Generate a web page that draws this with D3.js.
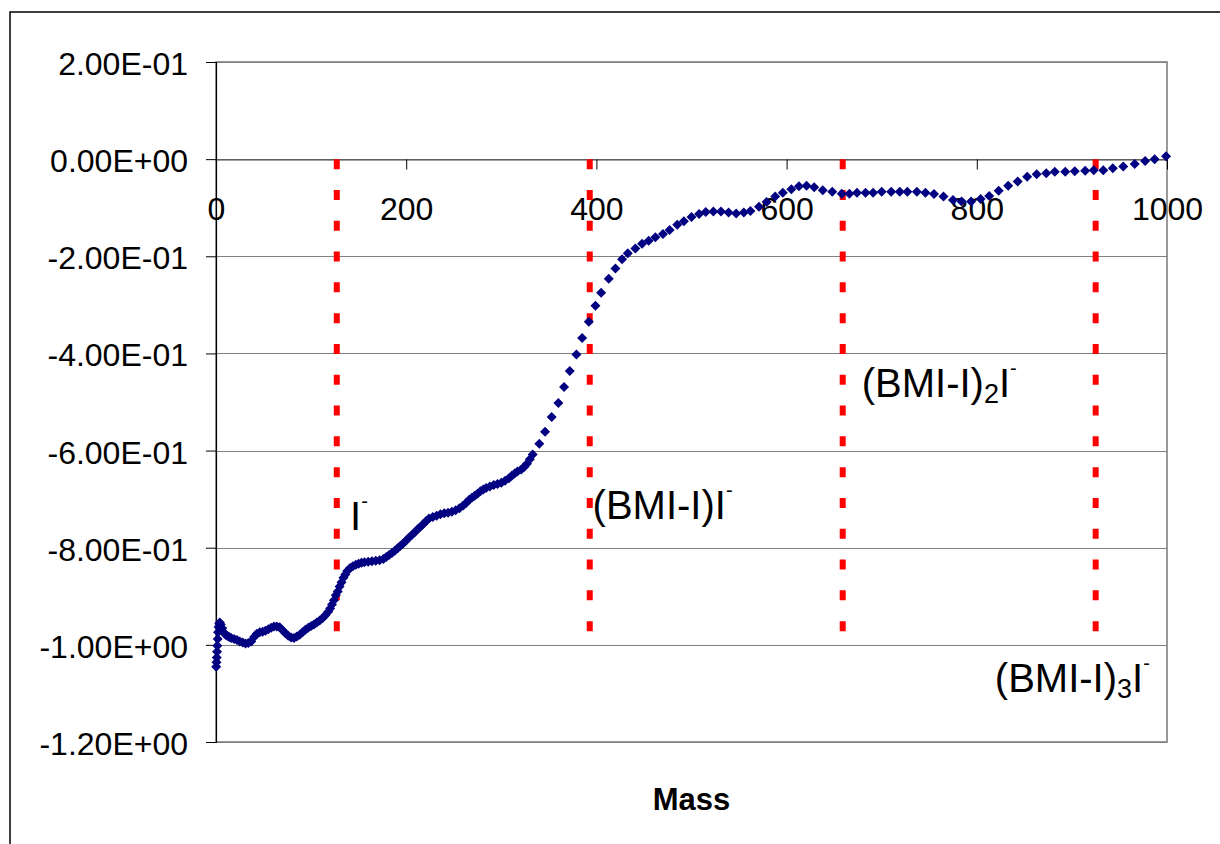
<!DOCTYPE html>
<html>
<head>
<meta charset="UTF-8">
<title>Mass spectrum</title>
<style>
  body { margin: 0; background: #fff; }
  svg { display: block; font-family: "Liberation Sans", Arial, sans-serif; }
</style>
</head>
<body>
<div id="chart"></div>
<script src="https://d3js.org/d3.v7.min.js"></script>
<script>
// [mass, signal]
const signal = [
  [0.2,-1.045],[0.5,-1.036],[0.8,-1.026],[1.1,-1.014],[1.4,-1.002],[1.8,-0.988],[2.2,-0.974],[2.7,-0.963],
  [3.3,-0.956],[4,-0.954],[5,-0.958],[6.5,-0.966],[8,-0.974],[10,-0.979],[12,-0.982],[14,-0.984],[16,-0.986],
  [19,-0.988],[22,-0.990],[25,-0.993],[28,-0.995],[31,-0.997],[34,-0.996],[37,-0.993],[40,-0.984],[43,-0.977],
  [46,-0.974],[49,-0.973],[52,-0.971],[55,-0.968],[58,-0.965],[61,-0.962],[64,-0.962],[67,-0.964],[70,-0.970],
  [73,-0.976],[76,-0.981],[79,-0.985],[82,-0.986],[85,-0.983],[88,-0.979],[91,-0.974],[94,-0.969],[97,-0.965],
  [100,-0.961],[103,-0.958],[106,-0.954],[109,-0.950],[112,-0.945],[115,-0.939],[118,-0.932],[120,-0.925],
  [122,-0.917],[124,-0.908],[126,-0.898],[128,-0.890],[130,-0.880],[132,-0.871],[134,-0.862],[136,-0.855],
  [138,-0.848],[141,-0.842],[144,-0.838],[147,-0.835],[150,-0.833],[153,-0.831],[156,-0.830],[160,-0.829],
  [164,-0.828],[168,-0.827],[172,-0.826],[176,-0.823],[179,-0.819],[182,-0.815],[185,-0.811],[188,-0.806],
  [191,-0.801],[194,-0.796],[197,-0.791],[200,-0.785],[203,-0.779],[206,-0.774],[209,-0.768],[212,-0.762],
  [215,-0.757],[218,-0.751],[221,-0.745],[224,-0.740],[228,-0.737],[232,-0.734],[236,-0.731],[240,-0.729],
  [244,-0.728],[248,-0.726],[252,-0.723],[256,-0.719],[260,-0.713],[263,-0.708],[266,-0.702],[269,-0.697],
  [272,-0.693],[275,-0.689],[278,-0.684],[281,-0.680],[284,-0.677],[288,-0.674],[292,-0.671],[296,-0.669],
  [300,-0.666],[304,-0.662],[308,-0.657],[311,-0.652],[314,-0.647],[317,-0.643],[321,-0.639],[324,-0.634],
  [327,-0.627],[330,-0.618],[333,-0.608],
  [340,-0.586],[346,-0.561],[353,-0.531],[360,-0.502],[366,-0.469],[372,-0.436],[379,-0.402],[385,-0.368],
  [392,-0.335],[399,-0.302],[405,-0.275],[413,-0.246],[420,-0.225],[427,-0.206],[433,-0.194],[441,-0.184],
  [448,-0.174],[455,-0.168],[462,-0.161],[470,-0.154],[477,-0.146],[485,-0.135],[492,-0.128],[500,-0.119],
  [508,-0.113],[515,-0.109],[523,-0.108],[531,-0.108],[539,-0.110],[547,-0.112],[555,-0.110],[562,-0.107],
  [571,-0.098],[579,-0.088],[588,-0.077],[596,-0.069],[605,-0.062],[613,-0.056],[621,-0.055],[629,-0.058],
  [638,-0.064],[648,-0.067],[658,-0.071],[666,-0.071],[674,-0.069],[683,-0.069],[691,-0.069],[700,-0.067],
  [710,-0.067],[719,-0.067],[727,-0.067],[737,-0.067],[746,-0.069],[755,-0.072],[765,-0.077],[775,-0.084],
  [784,-0.087],[794,-0.087],[804,-0.082],[813,-0.076],[823,-0.065],[833,-0.055],[843,-0.046],[853,-0.036],
  [863,-0.031],[873,-0.029],[882,-0.026],[893,-0.026],[903,-0.025],[914,-0.024],[923,-0.023],[933,-0.023],
  [943,-0.019],[954,-0.015],[966,-0.010],[977,-0.004],[987,0.000],[999,0.006]
];

const ionMasses = [127, 393, 659, 925];
const ionLabels = [
  [{t: "I"}, {t: "-", sup: true}],
  [{t: "(BMI-I)I"}, {t: "-", sup: true}],
  [{t: "(BMI-I)"}, {t: "2", sub: true}, {t: "I"}, {t: "-", sup: true}],
  [{t: "(BMI-I)"}, {t: "3", sub: true}, {t: "I"}, {t: "-", sup: true}]
];
const xTicks = [0, 200, 400, 600, 800, 1000];
const yTicks = [0.2, 0, -0.2, -0.4, -0.6, -0.8, -1.0, -1.2];
const xTitle = "Mass";

const width = 1220, height = 844;
const svg = d3.select("#chart").append("svg").attr("width", width).attr("height", height);

// outer chart border
svg.append("rect").attr("x", 10).attr("y", 12).attr("width", 1400).attr("height", 1000)
  .attr("fill", "none").attr("stroke", "#000").attr("stroke-width", 1.5);

const x = d3.scaleLinear().domain([0, 1000]).range([216, 1167]);
const y = d3.scaleLinear().domain([-1.2, 0.2]).range([742, 62]);

const fmtE = d => {
  const [m, e] = d.toExponential(2).split("e");
  const sign = e[0] === "-" ? "-" : "+";
  return m + "E" + sign + String(Math.abs(+e)).padStart(2, "0");
};

// grid
svg.append("g").selectAll("line").data(yTicks).join("line")
  .attr("x1", x(0)).attr("x2", x(1000))
  .attr("y1", d => Math.round(y(d)) + 0.5).attr("y2", d => Math.round(y(d)) + 0.5)
  .attr("stroke", "#808080").attr("stroke-width", 1.2);

svg.append("rect").attr("x", x(0)).attr("y", y(0.2)).attr("width", x(1000) - x(0)).attr("height", y(-1.2) - y(0.2))
  .attr("fill", "none").attr("stroke", "#808080").attr("stroke-width", 1.6);

// y axis
const yAxis = svg.append("g").attr("transform", `translate(${x(0)},0)`)
  .call(d3.axisLeft(y).tickValues(yTicks).tickFormat(fmtE).tickSize(10).tickPadding(18));
yAxis.select(".domain").attr("stroke", "#000").attr("stroke-width", 1.2);
yAxis.selectAll(".tick line").attr("stroke", "#000");
yAxis.selectAll("text").attr("font-size", 32).attr("dy", "0.39em").attr("fill", "#000")
  .attr("font-family", "'Liberation Sans', Arial, sans-serif");

// x axis sits on zero
const xAxis = svg.append("g").attr("transform", `translate(0,${Math.round(y(0)) + 0.5})`)
  .call(d3.axisBottom(x).tickValues(xTicks).tickFormat(d3.format("d")).tickSize(10).tickSizeOuter(0));
xAxis.select(".domain").attr("stroke", "#404040").attr("stroke-width", 1.2);
xAxis.selectAll(".tick line").attr("stroke", "#000");
xAxis.selectAll("text").attr("font-size", 32).attr("y", 60).attr("dy", 0).attr("fill", "#000")
  .attr("font-family", "'Liberation Sans', Arial, sans-serif");

// ion marker lines
svg.append("g").selectAll("line").data(ionMasses).join("line")
  .attr("x1", d => x(d)).attr("x2", d => x(d))
  .attr("y1", y(0)).attr("y2", y(-1.0))
  .attr("stroke", "#ff0000").attr("stroke-width", 6).attr("stroke-dasharray", "10 20.8");

// data points
svg.append("g").selectAll("path").data(signal).join("path")
  .attr("transform", d => `translate(${x(d[0])},${y(d[1])})`)
  .attr("d", "M0,-5L5,0L0,5L-5,0Z")
  .attr("fill", "#000080");

// ion labels: anchored at [mass, signal]
const labelPos = [[141, -0.763], [396, -0.740], [679, -0.489], [819, -1.097]];
ionLabels.forEach((parts, i) => {
  const bx = x(labelPos[i][0]), by = y(labelPos[i][1]);
  const t = svg.append("text").attr("x", bx).attr("y", by).attr("font-size", 40).attr("fill", "#000");
  parts.forEach(p => {
    const s = t.append("tspan").text(p.t);
    if (p.sup) s.attr("font-size", 20).attr("y", by - 22);
    else if (p.sub) s.attr("font-size", 27).attr("y", by + 6);
    else s.attr("y", by);
  });
});

// axis title
svg.append("text").attr("x", (x(0) + x(1000)) / 2).attr("y", 810)
  .attr("text-anchor", "middle").attr("font-size", 31).attr("font-weight", "bold").text(xTitle);
</script>
</body>
</html>
